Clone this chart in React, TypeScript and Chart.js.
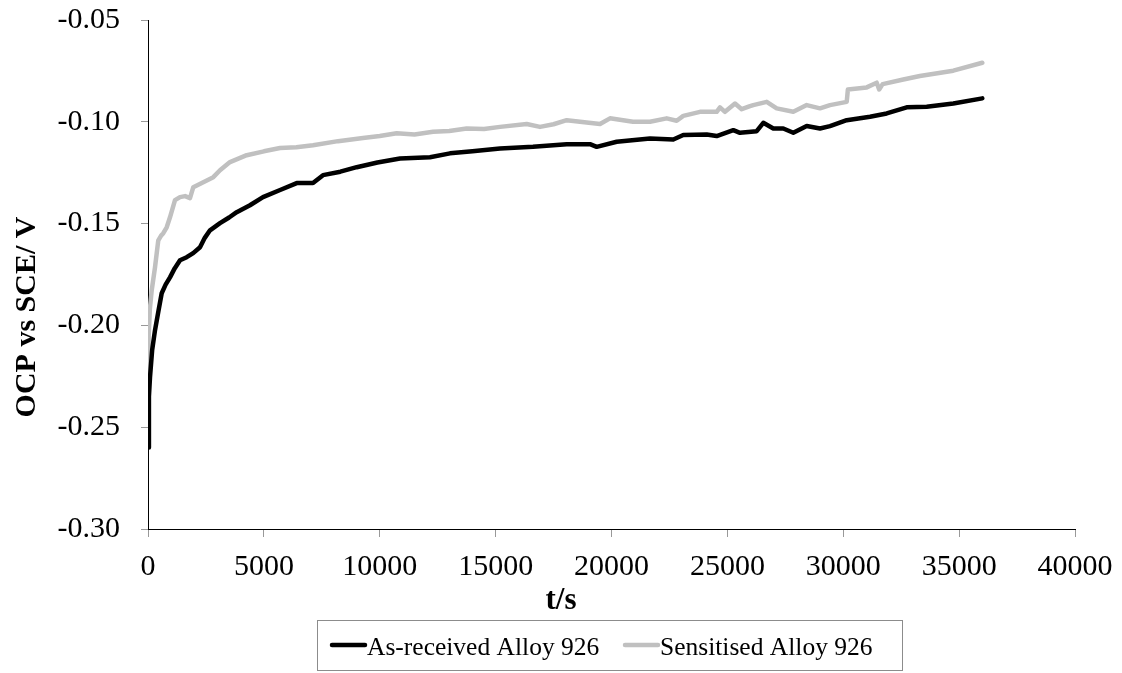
import { useEffect, useRef } from "react";
import { Chart, registerables } from "chart.js";

Chart.register(...registerables);

// ---- Data ----
const asReceivedT = [
  0, 40, 86, 180, 302, 450, 591, 760, 949, 1150, 1381, 1670, 1950, 2244, 2450,
  2675, 3107, 3500, 3827, 4400, 4962, 5700, 6416, 7120, 7551, 8300, 9005, 9900,
  10874, 12168, 13031, 14000, 15189, 16613, 18067, 19072, 19361, 20224, 21661,
  22667, 23098, 24108, 24539, 25256, 25544, 26265, 26550, 26982, 27413, 27845,
  28423, 28997, 29428, 30149, 31155, 31875, 32738, 33601, 34748, 36000,
];
const asReceivedV = [
  -0.26, -0.235, -0.2255, -0.212, -0.2024, -0.193, -0.1842, -0.18, -0.1764,
  -0.172, -0.168, -0.1665, -0.1645, -0.1616, -0.157, -0.1533, -0.1498, -0.147,
  -0.1444, -0.141, -0.137, -0.1335, -0.1301, -0.1301, -0.1262, -0.1245, -0.1223,
  -0.12, -0.118, -0.1174, -0.1155, -0.1145, -0.1131, -0.1123, -0.111, -0.111,
  -0.1123, -0.1098, -0.1082, -0.1087, -0.1065, -0.1062, -0.107, -0.1041, -0.1054,
  -0.1046, -0.1005, -0.1033, -0.1033, -0.1054, -0.1021, -0.1033, -0.1021,
  -0.0992, -0.0975, -0.0959, -0.0929, -0.0926, -0.091, -0.0885,
];

const sensitisedT = [
  0, 30, 80, 160, 302, 444, 560, 660, 807, 949, 1165, 1381, 1600, 1812, 1955,
  2386, 2818, 3107, 3538, 4259, 5000, 5696, 6400, 7120, 8200, 9278, 10000, 10732,
  11500, 12298, 13000, 13752, 14500, 15189, 16341, 16915, 17500, 18067, 19504,
  19935, 20928, 21661, 22382, 22813, 23098, 23818, 24539, 24681, 24897, 25329,
  25618, 25976, 26118, 26697, 27128, 27845, 28423, 28997, 29428, 30149, 30200,
  31012, 31443, 31550, 31700, 32591, 33307, 34748, 36000,
];
const sensitisedV = [
  -0.223, -0.205, -0.192, -0.1828, -0.1715, -0.1582, -0.156, -0.1547, -0.1518,
  -0.1469, -0.1385, -0.137, -0.1365, -0.1375, -0.1321, -0.1297, -0.1272, -0.1238,
  -0.1198, -0.1164, -0.1145, -0.1129, -0.1125, -0.1115, -0.1095, -0.108, -0.107,
  -0.1056, -0.1062, -0.1049, -0.1045, -0.1033, -0.1035, -0.1025, -0.1011,
  -0.1025, -0.1012, -0.0992, -0.1011, -0.0983, -0.1, -0.1, -0.0983, -0.0995,
  -0.0971, -0.0951, -0.0951, -0.0929, -0.0951, -0.091, -0.0938, -0.0923, -0.0918,
  -0.0902, -0.0934, -0.0951, -0.0918, -0.0934, -0.0918, -0.0902, -0.0841,
  -0.0831, -0.0808, -0.0841, -0.0815, -0.0792, -0.0775, -0.0749, -0.071,
];

const seriesLabels = ["As-received Alloy 926", "Sensitised Alloy 926"];
const seriesColors = ["#000000", "#C0C0C0"];
const xTickValues = [0, 5000, 10000, 15000, 20000, 25000, 30000, 35000, 40000];
const yTickValues = [-0.3, -0.25, -0.2, -0.15, -0.1, -0.05];
const xTitle = "t/s";
const yTitle = "OCP vs SCE/ V";

const FONT = '"Liberation Serif", "Times New Roman", serif';

const overlayPlugin = {
  id: "overlay",
  afterDraw(chart: any) {
    const ctx = chart.ctx as CanvasRenderingContext2D;
    ctx.save();
    ctx.fillStyle = "#000";
    // y-axis title
    ctx.font = `bold 30px ${FONT}`;
    ctx.save();
    ctx.translate(35, 317);
    ctx.rotate(-Math.PI / 2);
    ctx.textAlign = "center";
    ctx.textBaseline = "alphabetic";
    ctx.fillText(yTitle, 0, 0);
    ctx.restore();
    // x-axis title
    ctx.font = `bold 31px ${FONT}`;
    ctx.textAlign = "center";
    ctx.textBaseline = "alphabetic";
    ctx.fillText(xTitle, 561, 609);
    // legend box
    ctx.strokeStyle = "#8c8c8c";
    ctx.lineWidth = 1;
    ctx.strokeRect(317.5, 620.5, 585, 50);
    const starts = [332, 625];
    ctx.font = `25.5px ${FONT}`;
    ctx.textAlign = "left";
    chart.data.datasets.forEach((ds: any, i: number) => {
      const x0 = starts[i];
      ctx.strokeStyle = ds.borderColor;
      ctx.lineWidth = 4.5;
      ctx.lineCap = "round";
      ctx.beginPath();
      ctx.moveTo(x0, 645);
      ctx.lineTo(x0 + 33, 645);
      ctx.stroke();
      ctx.fillStyle = "#000";
      ctx.fillText(ds.label, x0 + 35, 655);
    });
    ctx.restore();
  },
};

export default function App() {
  const canvasRef = useRef<HTMLCanvasElement | null>(null);

  useEffect(() => {
    const canvas = canvasRef.current;
    if (!canvas) return;
    const mk = (ts: number[], vs: number[]) => ts.map((t, i) => ({ x: t, y: vs[i] }));
    const chart = new Chart(canvas, {
      type: "line",
      data: {
        datasets: [
          {
            label: seriesLabels[0],
            data: mk(asReceivedT, asReceivedV),
            borderColor: seriesColors[0],
            backgroundColor: seriesColors[0],
            borderWidth: 4.5,
            pointRadius: 0,
            tension: 0,
            borderJoinStyle: "round",
            borderCapStyle: "round",
          },
          {
            label: seriesLabels[1],
            data: mk(sensitisedT, sensitisedV),
            borderColor: seriesColors[1],
            backgroundColor: seriesColors[1],
            borderWidth: 4.5,
            pointRadius: 0,
            tension: 0,
            borderJoinStyle: "round",
            borderCapStyle: "round",
          },
        ],
      },
      options: {
        animation: false,
        responsive: false,
        devicePixelRatio: 1,
        layout: { padding: { left: 0, right: 47, top: 20, bottom: 0 } },
        plugins: {
          legend: { display: false },
          tooltip: { enabled: false },
          title: { display: false },
        },
        scales: {
          x: {
            type: "linear",
            min: 0,
            max: 40000,
            afterBuildTicks: (s: any) => {
              s.ticks = xTickValues.map((v) => ({ value: v }));
            },
            afterFit: (s: any) => {
              s.height = 144;
              s.paddingLeft = 0;
              s.paddingRight = 0;
              s.paddingTop = 0;
              s.paddingBottom = 0;
            },
            ticks: {
              font: { family: FONT, size: 30 },
              color: "#000",
              padding: 12,
              maxRotation: 0,
              autoSkip: false,
              callback: (v: any) => String(v),
            },
            grid: {
              drawOnChartArea: false,
              drawTicks: true,
              tickLength: 8,
              tickColor: "#999999",
            },
            border: { color: "#000", width: 1 },
          },
          y: {
            type: "linear",
            min: -0.3,
            max: -0.05,
            afterBuildTicks: (s: any) => {
              s.ticks = yTickValues.map((v) => ({ value: v }));
            },
            afterFit: (s: any) => {
              s.width = 148;
              s.paddingLeft = 0;
              s.paddingRight = 0;
              s.paddingTop = 0;
              s.paddingBottom = 0;
            },
            ticks: {
              font: { family: FONT, size: 30 },
              color: "#000",
              padding: 21,
              autoSkip: false,
              callback: (v: any) => Number(v).toFixed(2),
            },
            grid: {
              drawOnChartArea: false,
              drawTicks: true,
              tickLength: 7,
              tickColor: "#999999",
            },
            border: { color: "#000", width: 1 },
          },
        },
      },
      plugins: [overlayPlugin],
    });
    return () => chart.destroy();
  }, []);

  return (
    <div style={{ position: "absolute", left: 0, top: 0, width: 1122, height: 673, background: "#fff" }}>
      <canvas ref={canvasRef} width={1122} height={673} style={{ display: "block" }} />
    </div>
  );
}
